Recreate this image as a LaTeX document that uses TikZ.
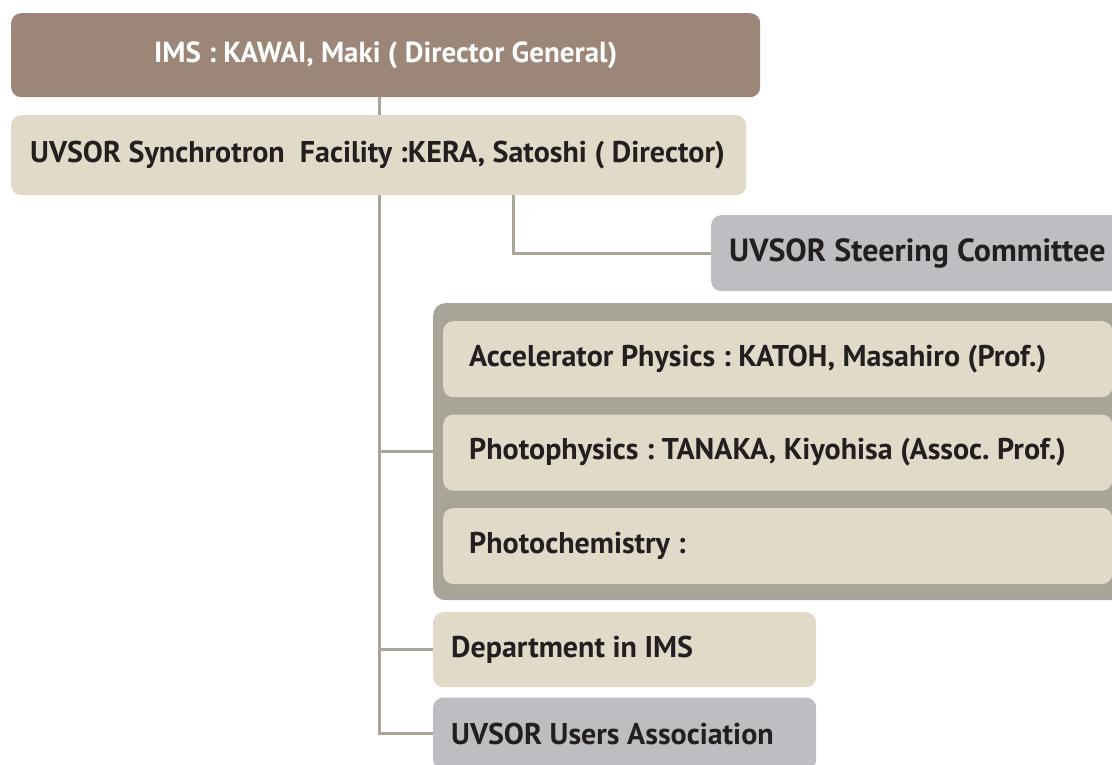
\documentclass[tikz,border=0pt]{standalone}
\usepackage{fontspec}
\setmainfont{PT Sans}
\usetikzlibrary{positioning, backgrounds}

\definecolor{imsbrown}{RGB}{156,134,120}
\definecolor{facbeige}{RGB}{226,218,200}
\definecolor{cmtgrey}{RGB}{190,190,194}
\definecolor{grpgrey}{RGB}{168,164,152}
\definecolor{linkgrey}{RGB}{170,165,152}
\definecolor{ink}{RGB}{35,31,32}
\frenchspacing

\begin{document}
\begin{tikzpicture}[x=1pt, y=-1pt]
    % --- Style Definitions ---
    \tikzset{
        unit box/.style={
            anchor=north west,
            rounded corners=10pt,
            inner ysep=0pt,
            text=ink,
            align=flush left,
            font=\bfseries\fontsize{30}{36}\selectfont
        },
        beige box/.style={unit box, fill=facbeige},
        grey box/.style={unit box, fill=cmtgrey},
        link line/.style={draw=linkgrey, line width=3pt}
    }

    \clip (0,0) rectangle (1112,764);

    % --- 1. Director boxes ---
    \node[unit box, fill=imsbrown, text=white, align=flush center,
        minimum width=749pt, minimum height=84pt,
        font=\bfseries\fontsize{29}{34}\selectfont] (ims) at (11,13)
        {IMS : KAWAI, Maki ( Director General)};
    \node[beige box, minimum height=80pt, text width=697pt, inner xsep=19pt] (fac) at (11,115)
        {\mbox{UVSOR Synchrotron~ Facility :KERA, Satoshi ( Director)}};

    % --- 2. Committee ---
    \node[grey box, minimum height=76pt, text width=400pt, inner xsep=18pt,
        font=\bfseries\fontsize{32}{38}\selectfont] (steer) at (711,215)
        {UVSOR Steering Committee};

    % --- 3. Research groups ---
    \node[anchor=north west, rounded corners=12pt, fill=grpgrey, inner sep=0pt,
        minimum width=720pt, minimum height=297pt] (lab) at (433,303) {};
    \node[beige box, minimum height=76pt, text width=617pt, inner xsep=26pt] (acc) at (443,321)
        {Accelerator Physics : KATOH, Masahiro (Prof.)};
    \node[beige box, minimum height=76pt, text width=617pt, inner xsep=26pt,
        below=17pt of acc.south west, anchor=north west] (pph)
        {\mbox{Photophysics : TANAKA, Kiyohisa (Assoc. Prof.)}};
    \node[beige box, minimum height=76pt, text width=617pt, inner xsep=26pt,
        below=17pt of pph.south west, anchor=north west] (pch)
        {Photochemistry :};

    % --- 4. Other units ---
    \node[beige box, minimum height=75pt, text width=347pt, inner xsep=18pt] (dept) at (433,612)
        {Department in IMS};
    \node[grey box, minimum height=72pt, text width=347pt, inner xsep=18pt,
        below=10pt of dept.south west, anchor=north west] (users)
        {UVSOR Users Association};

    % --- 5. Connectors ---
    \coordinate (trunk) at ([xshift=368pt]ims.south west);
    \coordinate (fork) at ([xshift=502pt]fac.south west);
    \begin{pgfonlayer}{background}
        \draw[link line] (trunk) |- (users.west);
        \draw[link line] (trunk |- dept.west) -- (dept.west);
        \draw[link line] (trunk |- lab.west) -- (lab.west);
        \draw[link line] (fork) |- (steer.west);
    \end{pgfonlayer}
\end{tikzpicture}
\end{document}
